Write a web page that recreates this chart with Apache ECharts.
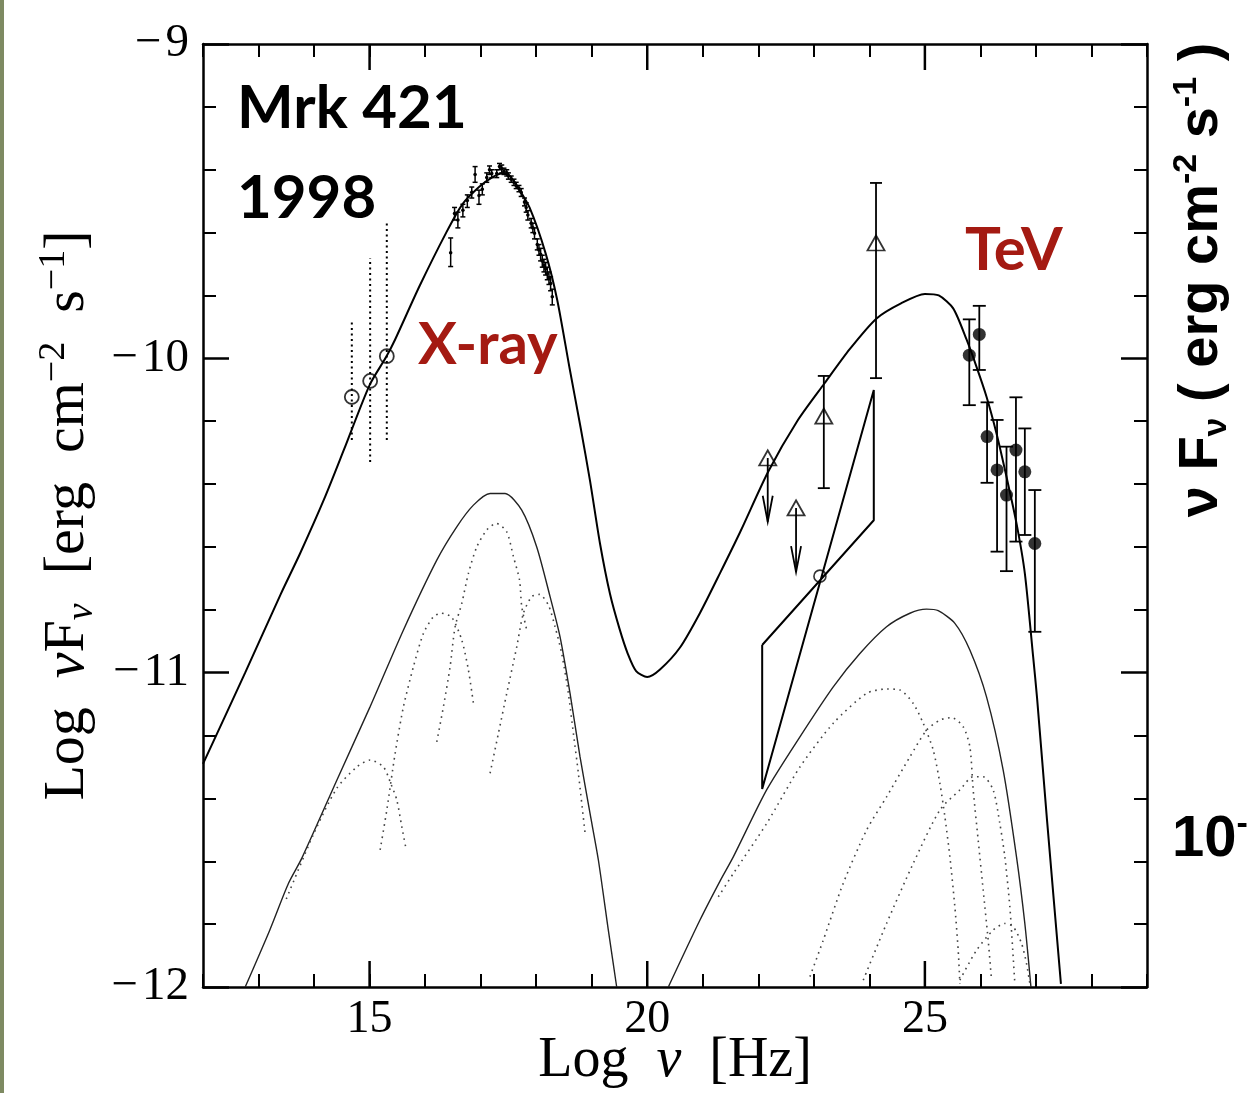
<!DOCTYPE html>
<html><head><meta charset="utf-8">
<script src="https://cdn.jsdelivr.net/npm/echarts@6/dist/echarts.min.js"></script>
<style>html,body{margin:0;padding:0;background:#fff}#c{width:1249px;height:1093px}</style>
</head><body><div id="c"></div>
<script>
// ---- axes ----
const xMin = 12, xMax = 29;
const yMin = -12, yMax = -9;
const xTickLabels = [15, 20, 25];
const yTickLabels = [-9, -10, -11, -12];

// ---- model curves [log nu, log nuFnu] ----
const totalModel = [[12.0,-11.29],[12.76,-11.0],[13.4,-10.75],[13.75,-10.62],[14.2,-10.44],[14.54,-10.29],[15.0,-10.085],[15.3,-9.995],[15.46,-9.94],[15.9,-9.77],[16.38,-9.6],[16.67,-9.51],[16.97,-9.455],[17.2,-9.425],[17.38,-9.412],[17.5,-9.415],[17.65,-9.45],[17.88,-9.52],[18.17,-9.666],[18.38,-9.815],[18.6,-10.03],[18.8,-10.22],[18.97,-10.39],[19.15,-10.59],[19.33,-10.75],[19.5,-10.86],[19.65,-10.94],[19.8,-10.995],[20.0,-11.014],[20.23,-10.99],[20.59,-10.92],[20.95,-10.81],[21.32,-10.68],[21.68,-10.55],[22.18,-10.36],[22.7,-10.2],[23.19,-10.08],[23.65,-9.97],[24.13,-9.873],[24.57,-9.825],[25.0,-9.795],[25.25,-9.8],[25.51,-9.841],[25.75,-9.94],[25.93,-10.027],[26.11,-10.122],[26.29,-10.239],[26.47,-10.377],[26.65,-10.525],[26.8,-10.684],[26.95,-10.95],[27.02,-11.08],[27.2,-11.47],[27.45,-11.99]];
const syncComponent = [[12.76,-12.0],[13.2,-11.82],[13.54,-11.67],[13.78,-11.59],[14.41,-11.342],[15.01,-11.108],[15.61,-10.864],[16.21,-10.642],[16.57,-10.536],[16.87,-10.467],[17.17,-10.43],[17.44,-10.43],[17.74,-10.483],[18.01,-10.6],[18.25,-10.758],[18.43,-10.886],[18.61,-11.066],[18.79,-11.268],[18.97,-11.448],[19.12,-11.596],[19.3,-11.82],[19.45,-12.0]];
const icComponent = [[20.38,-12.0],[20.95,-11.787],[21.32,-11.66],[21.55,-11.586],[22.15,-11.373],[22.75,-11.204],[23.35,-11.045],[23.83,-10.939],[24.31,-10.854],[24.73,-10.811],[25.03,-10.798],[25.24,-10.803],[25.54,-10.843],[25.81,-10.928],[26.11,-11.077],[26.41,-11.31],[26.65,-11.586],[26.8,-11.798],[26.91,-12.0]];
const syncZone1 = [[13.5,-11.72],[14.0,-11.51],[14.41,-11.368],[14.77,-11.3],[15.01,-11.278],[15.25,-11.3],[15.38,-11.352],[15.49,-11.405],[15.58,-11.49],[15.66,-11.564]];
const syncZone2 = [[15.19,-11.564],[15.31,-11.437],[15.46,-11.257],[15.61,-11.108],[15.79,-10.981],[15.97,-10.875],[16.15,-10.822],[16.29,-10.811],[16.48,-10.824],[16.66,-10.896],[16.78,-10.992],[16.87,-11.098]];
const syncZone3 = [[16.21,-11.22],[16.33,-11.108],[16.45,-10.981],[16.54,-10.854],[16.66,-10.78],[16.78,-10.684],[16.93,-10.6],[17.11,-10.546],[17.28,-10.525],[17.47,-10.552],[17.59,-10.631],[17.7,-10.705],[17.74,-10.79],[17.83,-10.864]];
const syncZone4 = [[17.17,-11.32],[17.32,-11.193],[17.47,-11.066],[17.65,-10.918],[17.77,-10.811],[17.92,-10.758],[18.06,-10.751],[18.22,-10.785],[18.34,-10.854],[18.46,-10.939],[18.58,-11.066],[18.67,-11.193],[18.76,-11.32],[18.88,-11.51]];
const icZone1 = [[21.28,-11.713],[21.55,-11.639],[22.15,-11.48],[22.75,-11.3],[23.35,-11.161],[23.95,-11.066],[24.31,-11.052],[24.55,-11.055],[24.79,-11.098],[24.97,-11.161],[25.15,-11.246],[25.27,-11.352],[25.36,-11.458],[25.45,-11.586],[25.54,-11.745],[25.6,-11.883],[25.63,-11.989]];
const icZone2 = [[22.93,-11.967],[23.17,-11.851],[23.53,-11.67],[23.95,-11.501],[24.31,-11.395],[24.73,-11.268],[25.03,-11.183],[25.27,-11.151],[25.48,-11.143],[25.69,-11.172],[25.81,-11.236],[25.87,-11.373],[25.96,-11.533],[26.05,-11.692],[26.14,-11.851],[26.2,-11.978]];
const icZone3 = [[23.89,-11.978],[24.31,-11.798],[24.79,-11.607],[25.27,-11.437],[25.63,-11.373],[25.87,-11.331],[26.05,-11.331],[26.23,-11.373],[26.35,-11.48],[26.44,-11.586],[26.53,-11.745],[26.59,-11.904],[26.62,-11.989]];
const icZone4 = [[25.63,-11.978],[25.93,-11.883],[26.23,-11.819],[26.44,-11.798],[26.59,-11.808],[26.74,-11.861],[26.83,-11.925],[26.89,-11.989]];

// ---- data [x, y, yLow, yHigh] ----
const opticalData = [[14.68,-10.123,-10.26,-9.886],[15.01,-10.072,-10.33,-9.681],[15.31,-9.993,-10.26,-9.566]];
const xrayData = [[16.46,-9.664,-9.708,-9.617],[16.53,-9.539,-9.56,-9.52],[16.59,-9.56,-9.585,-9.535],[16.68,-9.529,-9.55,-9.51],[16.76,-9.498,-9.52,-9.48],[16.84,-9.472,-9.49,-9.455],[16.9,-9.415,-9.44,-9.39],[16.97,-9.482,-9.51,-9.465],[17.03,-9.462,-9.48,-9.445],[17.11,-9.425,-9.44,-9.41],[17.16,-9.40,-9.415,-9.388],[17.2,-9.412,-9.425,-9.4],[17.29,-9.412,-9.425,-9.4],[17.34,-9.39,-9.40,-9.38],[17.38,-9.397,-9.41,-9.385],[17.42,-9.405,-9.415,-9.395],[17.47,-9.41,-9.42,-9.4],[17.5,-9.42,-9.43,-9.41],[17.55,-9.43,-9.44,-9.42],[17.6,-9.44,-9.45,-9.43],[17.64,-9.451,-9.46,-9.44],[17.69,-9.46,-9.47,-9.45],[17.73,-9.472,-9.485,-9.46],[17.79,-9.503,-9.515,-9.49],[17.82,-9.52,-9.535,-9.505],[17.85,-9.544,-9.56,-9.53],[17.91,-9.57,-9.585,-9.555],[17.94,-9.585,-9.6,-9.57],[17.97,-9.602,-9.62,-9.585],[18.02,-9.638,-9.655,-9.62],[18.05,-9.655,-9.672,-9.638],[18.08,-9.669,-9.69,-9.65],[18.11,-9.69,-9.71,-9.672],[18.14,-9.705,-9.725,-9.685],[18.17,-9.715,-9.735,-9.695],[18.2,-9.731,-9.75,-9.71],[18.23,-9.745,-9.765,-9.725],[18.26,-9.762,-9.785,-9.74],[18.29,-9.804,-9.83,-9.78]];
const gevData = [[23.18,-10.184,-10.413,-10.056],[24.12,-9.633,-10.063,-9.442]];
const gevUpperLimits = [[22.17,-10.317,-10.52],[22.68,-10.476,-10.68]];
const bowtie = [[22.07,-10.912],[24.08,-10.515],[24.08,-10.101],[22.07,-11.37],[22.07,-10.912]];
const bowtieCenter = [[23.11,-10.693]];
const tevData = [[25.8,-9.99,-10.149,-9.876],[25.98,-9.924,-10.037,-9.833],[26.12,-10.249,-10.396,-10.14],[26.3,-10.355,-10.615,-10.196],[26.47,-10.435,-10.677,-10.281],[26.64,-10.292,-10.583,-10.124],[26.8,-10.361,-10.562,-10.223],[26.98,-10.589,-10.87,-10.419]];

// ---- rendering helpers ----
function errorBars(capHalf, lw, dash, dotR) {
  return function (params, api) {
    const x = api.value(0);
    const c = api.coord([x, api.value(1)]);
    const lo = api.coord([x, api.value(2)]);
    const hi = api.coord([x, api.value(3)]);
    const ch = [{type:'line', shape:{x1:lo[0],y1:lo[1],x2:hi[0],y2:hi[1]}, style:{stroke:'#000', lineWidth:lw, lineDash:dash||null}}];
    if (capHalf > 0) {
      ch.push({type:'line', shape:{x1:lo[0]-capHalf,y1:lo[1],x2:lo[0]+capHalf,y2:lo[1]}, style:{stroke:'#000', lineWidth:lw}});
      ch.push({type:'line', shape:{x1:hi[0]-capHalf,y1:hi[1],x2:hi[0]+capHalf,y2:hi[1]}, style:{stroke:'#000', lineWidth:lw}});
    }
    if (dotR) ch.push({type:'circle', shape:{cx:c[0], cy:c[1], r:dotR}, style:{fill:'#000'}});
    return {type:'group', children: ch};
  };
}
function arrows(params, api) {
  const x = api.value(0);
  const s = api.coord([x, api.value(1)]);
  const e = api.coord([x, api.value(2)]);
  return {type:'group', children:[
    {type:'line', shape:{x1:s[0],y1:s[1],x2:e[0],y2:e[1]}, style:{stroke:'#000', lineWidth:1.8}},
    {type:'polyline', shape:{points:[[e[0]-5,e[1]-26],[e[0],e[1]],[e[0]+5,e[1]-26]]}, style:{stroke:'#000', lineWidth:1.8, fill:null}}
  ]};
}
function majorTicks(params, api) {
  const v = api.value(0);
  const b = api.coord([v, yMin]);
  const t = api.coord([v, yMax]);
  return {type:'group', children:[
    {type:'line', shape:{x1:b[0],y1:b[1],x2:b[0],y2:b[1]-26}, style:{stroke:'#000', lineWidth:2.5}},
    {type:'line', shape:{x1:t[0],y1:t[1],x2:t[0],y2:t[1]+26}, style:{stroke:'#000', lineWidth:2.5}}
  ]};
}
function curve(data, width, color, dash) {
  return {type:'line', data:data, showSymbol:false, smooth:0.25,
    lineStyle:{color:color, width:width, type: dash || 'solid'}, z:2, silent:true};
}

const serif = 'Liberation Serif';
const axisCommonX = {
  type:'value', min:xMin, max:xMax, interval:1,
  axisLine:{show:true, onZero:false, lineStyle:{color:'#000', width:2.5}},
  axisTick:{show:true, inside:true, length:13, lineStyle:{color:'#000', width:2}},
  splitLine:{show:false}
};
const axisCommonY = {
  type:'value', min:yMin, max:yMax, interval:1,
  axisLine:{show:true, onZero:false, lineStyle:{color:'#000', width:2.5}},
  axisTick:{show:true, inside:true, length:26, lineStyle:{color:'#000', width:2.5}},
  minorTick:{show:true, splitNumber:5, length:13, lineStyle:{color:'#000', width:2}},
  splitLine:{show:false}, minorSplitLine:{show:false}
};

const chart = echarts.init(document.getElementById('c'), null, {renderer:'canvas'});
chart.setOption({
  animation:false,
  backgroundColor:'#fff',
  grid:{left:203, right:102, top:44, bottom:106, containLabel:false, outerBoundsMode:'none'},
  xAxis:[
    Object.assign({}, axisCommonX, {
      position:'bottom',
      axisLabel:{show:true, margin:10, color:'#000', fontFamily:serif, fontSize:46,
        formatter: v => xTickLabels.indexOf(v) >= 0 ? String(v) : ''},
      name:'{n|Log  }{i|ν}{n|  [Hz]}', nameLocation:'middle', nameGap:46, nameMoveOverlap:false,
      nameTextStyle:{color:'#000', fontFamily:serif, fontSize:56,
        rich:{n:{fontFamily:serif, fontSize:56, color:'#000'}, i:{fontFamily:serif, fontStyle:'italic', fontSize:56, color:'#000'}}}
    }),
    Object.assign({}, axisCommonX, {position:'top', axisLabel:{show:false}})
  ],
  yAxis:[
    Object.assign({}, axisCommonY, {
      position:'left',
      axisLabel:{show:true, margin:14, color:'#000', fontFamily:serif, fontSize:47,
        formatter: v => yTickLabels.indexOf(v) >= 0 ? '\u2212\u200a' + Math.abs(v) : ''},
      name:'{n|Log  }{i|ν}{n|F}{sub|ν}{n|  [erg  cm}{sup|−2}{n|  s}{sup|−1}{n|]}',
      nameLocation:'middle', nameGap:102, nameRotate:90,
      nameTextStyle:{color:'#000', fontFamily:serif, fontSize:58,
        rich:{
          n:{fontFamily:serif, fontSize:58, lineHeight:66, color:'#000'},
          i:{fontFamily:serif, fontStyle:'italic', fontSize:58, lineHeight:66, color:'#000'},
          sub:{fontFamily:serif, fontStyle:'italic', fontSize:38, lineHeight:40, verticalAlign:'bottom', color:'#000'},
          sup:{fontFamily:serif, fontSize:38, lineHeight:40, verticalAlign:'top', color:'#000'}
        }}
    }),
    Object.assign({}, axisCommonY, {position:'right', axisLabel:{show:false}})
  ],
  series:[
    curve(totalModel, 2, '#000'),
    curve(syncComponent, 1.4, '#222'),
    curve(icComponent, 1.4, '#222'),
    curve(syncZone1, 1.6, '#444', [1.6, 4.5]),
    curve(syncZone2, 1.6, '#444', [1.6, 4.5]),
    curve(syncZone3, 1.6, '#444', [1.6, 4.5]),
    curve(syncZone4, 1.6, '#444', [1.6, 4.5]),
    curve(icZone1, 1.6, '#444', [1.6, 4.5]),
    curve(icZone2, 1.6, '#444', [1.6, 4.5]),
    curve(icZone3, 1.6, '#444', [1.6, 4.5]),
    curve(icZone4, 1.6, '#444', [1.6, 4.5]),
    {type:'line', data:bowtie, showSymbol:false, smooth:false, lineStyle:{color:'#000', width:2}, z:3, silent:true},
    {type:'custom', data:opticalData, encode:{x:0, y:1}, renderItem:errorBars(0, 2, [2, 3.5], 0), z:3, silent:true},
    {type:'scatter', data:opticalData.map(d => [d[0], d[1]]), symbol:'circle', symbolSize:14,
      itemStyle:{color:'rgba(0,0,0,0)', borderColor:'#000', borderWidth:1.8}, z:4, silent:true},
    {type:'custom', data:xrayData, encode:{x:0, y:1}, renderItem:errorBars(2.5, 1.5, null, 1.8), z:4, silent:true},
    {type:'custom', data:gevData, encode:{x:0, y:1}, renderItem:errorBars(6, 1.8, null, 0), z:4, silent:true},
    {type:'custom', data:gevUpperLimits, encode:{x:0, y:1}, renderItem:arrows, z:4, silent:true},
    {type:'scatter', data:gevData.map(d => [d[0], d[1]]).concat(gevUpperLimits.map(d => [d[0], d[1]])),
      symbol:'triangle', symbolSize:[17, 15],
      itemStyle:{color:'rgba(0,0,0,0)', borderColor:'#000', borderWidth:1.8}, z:5, silent:true},
    {type:'scatter', data:bowtieCenter, symbol:'circle', symbolSize:12,
      itemStyle:{color:'rgba(0,0,0,0)', borderColor:'#000', borderWidth:1.6}, z:5, silent:true},
    {type:'custom', data:tevData, encode:{x:0, y:1}, renderItem:errorBars(6.5, 1.8, null, 0), z:4, silent:true},
    {type:'scatter', data:tevData.map(d => [d[0], d[1]]), symbol:'circle', symbolSize:13,
      itemStyle:{color:'#000'}, z:5, silent:true},
    {type:'custom', data:xTickLabels.map(v => [v, yMin]), encode:{x:0, y:1}, renderItem:majorTicks, clip:false, z:6, silent:true}
  ],
  graphic:[
    {type:'rect', left:0, top:0, shape:{width:4, height:1093}, style:{fill:'#7e8a62'}, silent:true},
    {type:'text', x:237, y:109, silent:true, style:{text:'Mrk 421', fontFamily:'Lato', fontWeight:'bold', fontSize:60, fill:'#000', align:'left', verticalAlign:'middle'}},
    {type:'text', x:237, y:199, silent:true, style:{text:'1998', fontFamily:'Lato', fontWeight:'bold', fontSize:60, fill:'#000', align:'left', verticalAlign:'middle'}},
    {type:'text', x:418, y:345, silent:true, style:{text:'X-ray', fontFamily:'Lato', fontWeight:'bold', fontSize:58, fill:'#a41a12', align:'left', verticalAlign:'middle'}},
    {type:'text', x:965, y:251, silent:true, style:{text:'TeV', fontFamily:'Lato', fontWeight:'bold', fontSize:60, fill:'#a41a12', align:'left', verticalAlign:'middle'}},
    {type:'text', x:1202, y:280, rotation:Math.PI/2, silent:true, style:{
      text:'{a|ν F}{s|ν}{a| ( erg cm}{p|-2}{a| s}{p|-1}{a| )}',
      align:'center', verticalAlign:'middle', fill:'#000', fontFamily:'Liberation Sans', fontWeight:'bold', fontSize:56,
      rich:{
        a:{fontFamily:'Liberation Sans', fontWeight:'bold', fontSize:56, lineHeight:64, fill:'#000'},
        s:{fontFamily:'Liberation Sans', fontWeight:'bold', fontSize:34, lineHeight:34, verticalAlign:'bottom', fill:'#000'},
        p:{fontFamily:'Liberation Sans', fontWeight:'bold', fontSize:34, lineHeight:34, verticalAlign:'top', fill:'#000'}
      }}},
    {type:'text', x:1172, y:840, silent:true, style:{
      text:'{a|10}{p|-}', align:'left', verticalAlign:'middle', fill:'#000', fontFamily:'Liberation Sans', fontWeight:'bold', fontSize:58,
      rich:{
        a:{fontFamily:'Liberation Sans', fontWeight:'bold', fontSize:58, lineHeight:64, fill:'#000'},
        p:{fontFamily:'Liberation Sans', fontWeight:'bold', fontSize:34, lineHeight:34, verticalAlign:'top', fill:'#000'}
      }}}
  ]
});
</script>
</body></html>
